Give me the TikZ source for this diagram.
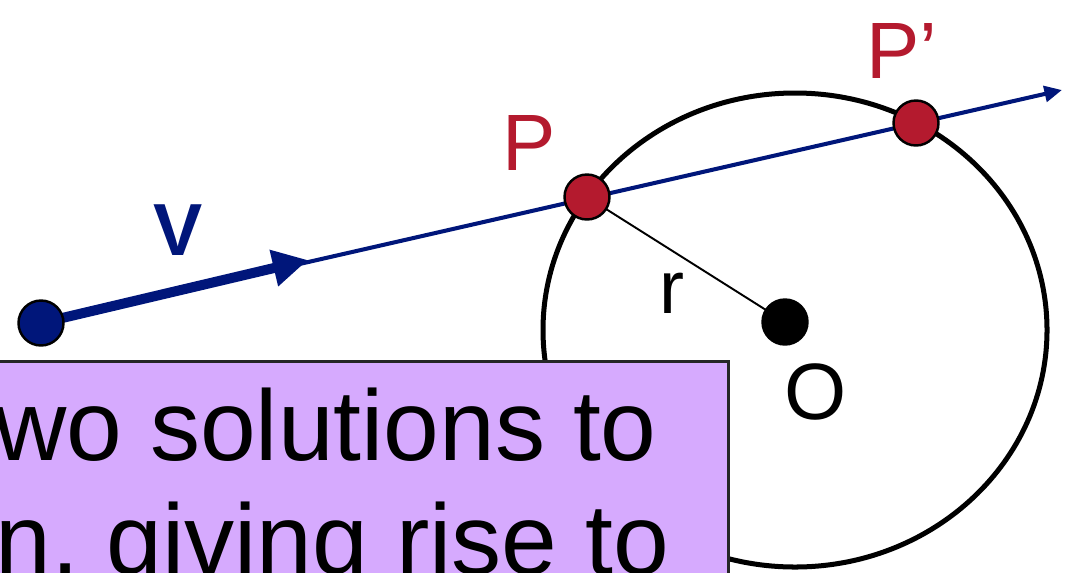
\documentclass[tikz,border=0pt]{standalone}
\usepackage{fontspec}
\setmainfont{Liberation Sans}
\usetikzlibrary{arrows.meta, positioning, backgrounds}
\definecolor{navy}{RGB}{0,22,122}
\definecolor{ptred}{RGB}{180,26,46}
\definecolor{lilac}{RGB}{214,170,254}
\tikzset{
  dt/.style  ={circle, draw=black, line width=1.4pt, minimum size=0.9cm, inner sep=0pt},
  lbl/.style ={font=\fontsize{45.5}{50}\selectfont, inner sep=0pt, anchor=base},
  ln/.style  ={navy, line width=2.3pt, -{Triangle[length=10pt, width=9pt]}},
  fl/.style  ={navy, line width=5.7pt, -{Triangle[length=20pt, width=20pt]}},
  txt/.style ={font=\fontsize{57}{65}\selectfont, inner sep=0pt, anchor=base west},
}
\begin{document}
\begin{tikzpicture}[x=0.02cm, y=-0.02cm]
  \useasboundingbox (0,0) rectangle (1077,572);
  \clip (0,0) rectangle (1077,572);
  \coordinate (vtip) at (308,260);
  \coordinate (vend) at (1062,90);
  \node[dt, fill=navy] (s) at (41,323) {};
  \node[dt, fill=ptred] (p) at (587,197) {};
  \node[dt, fill=ptred] (pp) at (916,123) {};
  \node[dt, fill=black] (o) at (785,322) {};
  \begin{scope}[on background layer]
    \draw[line width=2.85pt] (795,330) ellipse [x radius=252, y radius=237];
    \draw[ln] (s.center) -- (vend);
    \draw[fl] (s.center) -- (vtip);
    \draw[line width=1.1pt] (p.center) -- (o.center);
  \end{scope}
  \node[lbl, ptred] (plbl) at (529,170) {P};
  \node[lbl, ptred] (pplbl) at (902,78) {P’};
  \node[lbl] (olbl) at (816,419) {O};
  \node[lbl, font=\fontsize{42.7}{48}\selectfont] (rlbl) at (672,313) {r};
  \node[lbl, navy, font=\bfseries\fontsize{42}{48}\selectfont] (vlbl) at (178,255) {V};
  \draw[fill=lilac, draw=black!85, line width=1.7pt] (-20,361) rectangle (728,620);
  \node[txt] (ln1) at (-6,460) {wo solutions to};
  \node[txt] (ln2) at (-5,574) {n, giving rise to};
\end{tikzpicture}
\end{document}
